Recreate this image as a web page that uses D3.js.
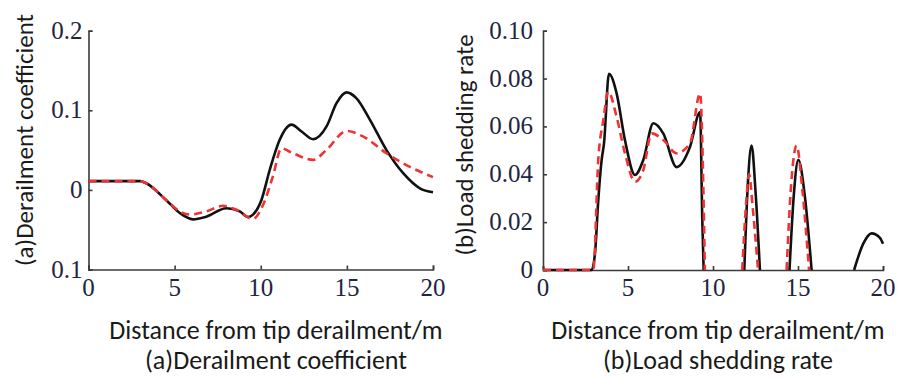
<!DOCTYPE html>
<html>
<head>
<meta charset="utf-8">
<script src="https://cdn.jsdelivr.net/npm/d3@7"></script>
<style>
  body { margin: 0; background: #fff; }
</style>
</head>
<body>
<div id="chart"></div>
<script>
// ---- data ----
const xTicks = [0, 5, 10, 15, 20];

// (a) derailment coefficient
const coefTicks = [0.2, 0.1, 0, -0.1];
const coefTickLabels = ['0.2', '0.1', '0', '0.1'];
const coefX = [0, 1, 2, 3, 3.35, 4.5, 5.3, 6.06, 6.84, 8.0, 8.78, 9.26, 9.55, 10.04, 10.52, 11.1, 11.78, 12.37, 13.04, 13.82, 14.4, 14.98, 15.56, 16.34, 17.3, 18.27, 19.24, 20];
const coefSolid = [0.011, 0.011, 0.011, 0.011, 0.0084, -0.0126, -0.029, -0.037, -0.0336, -0.023, -0.027, -0.034, -0.031, -0.0126, 0.025, 0.063, 0.082, 0.0734, 0.0637, 0.0797, 0.109, 0.1225, 0.115, 0.088, 0.050, 0.021, 0.002, -0.003];
const coefDashX = [0, 1, 2, 3, 3.35, 4.5, 5.3, 5.87, 6.84, 7.8, 8.58, 9.55, 10.13, 10.7, 11.2, 11.87, 13.04, 13.8, 14.98, 15.95, 17.3, 18.66, 20];
const coefDash = [0.011, 0.011, 0.011, 0.011, 0.0084, -0.0126, -0.027, -0.031, -0.027, -0.020, -0.025, -0.0365, -0.019, 0.0168, 0.052, 0.046, 0.0377, 0.050, 0.074, 0.067, 0.046, 0.029, 0.016];

// (b) load shedding rate (null = curve not drawn)
const loadTicks = [0.10, 0.08, 0.06, 0.04, 0.02, 0];
const loadTickLabels = ['0.10', '0.08', '0.06', '0.04', '0.02', '0'];
const loadSolidX = [0, 2.86, 3.06, 3.25, 3.45, 3.59, 3.88, 4.33, 4.82, 5.41, 5.9, 6.49, 7.08, 7.86, 8.65, 9.24, 9.37, 9.45,
  null, 11.84, 12.05, 12.27, 12.5, 12.76,
  null, 14.5, 14.75, 15.02, 15.4, 15.8,
  null, 18.3, 18.84, 19.33, 19.82, 20];
const loadSolid = [0, 0, 0.007, 0.029, 0.046, 0.053, 0.082, 0.0738, 0.0543, 0.0397, 0.046, 0.0613, 0.057, 0.043, 0.0515, 0.066, 0.021, 0,
  null, 0, 0.036, 0.052, 0.033, 0,
  null, 0, 0.031, 0.046, 0.031, 0,
  null, 0, 0.011, 0.0153, 0.0134, 0.011];
const loadDashX = [0, 2.96, 3.25, 3.55, 3.84, 4.33, 4.82, 5.41, 5.9, 6.39, 7.08, 7.86, 8.65, 9.24, 9.43, 9.52,
  null, 11.72, 11.95, 12.12, 12.35, 12.65,
  null, 14.33, 14.6, 14.92, 15.25, 15.65];
const loadDash = [0, 0, 0.046, 0.0627, 0.0745, 0.064, 0.0488, 0.0369, 0.0418, 0.0571, 0.0543, 0.0488, 0.053, 0.0738, 0.035, 0,
  null, 0, 0.028, 0.040, 0.025, 0,
  null, 0, 0.036, 0.052, 0.034, 0];

const W = 901, H = 378;

const svg = d3.select('#chart').append('svg')
  .attr('width', W).attr('height', H)
  .style('background', '#fff');

function zip(xs, ys) {
  return xs.map((x, i) => ({ x: x, y: ys[i] }));
}

// tick labels drawn as plain text from the scales, serif
function tickText(g, xs, ys, labels, anchor) {
  g.selectAll(null)
    .data(labels)
    .enter()
    .append('text')
    .attr('x', (d, i) => xs(i))
    .attr('y', (d, i) => ys(i))
    .attr('text-anchor', anchor)
    .attr('font-family', 'Liberation Serif')
    .attr('font-size', 25)
    .attr('fill', '#1e2540')
    .text(d => d);
}

function panel(opt) {
  const x = d3.scaleLinear().domain([0, 20]).range(opt.xr);
  const y = d3.scaleLinear().domain(opt.yd).range(opt.yr);
  const g = svg.append('g');

  // axes with inward ticks, labels drawn separately
  const xa = g.append('g')
    .attr('transform', `translate(0,${opt.yr[0]})`)
    .call(d3.axisBottom(x).tickValues(xTicks).tickFormat('')
      .tickSizeInner(-4).tickSizeOuter(-4));
  const ya = g.append('g')
    .attr('transform', `translate(${opt.xr[0]},0)`)
    .call(d3.axisLeft(y).tickValues(opt.yTicks).tickFormat('')
      .tickSizeInner(-4).tickSizeOuter(-4));
  [xa, ya].forEach(a => {
    a.selectAll('text').remove();
    a.selectAll('path, line').attr('stroke', '#3a3a3a').attr('stroke-width', 1.6);
  });

  tickText(g, i => x(xTicks[i]), () => opt.yr[0] + 26, xTicks.map(String), 'middle');
  tickText(g, () => opt.xr[0] - opt.yPad, i => y(opt.yTicks[i]) + 8, opt.yLabels, 'end');

  const line = d3.line()
    .defined(d => d.x !== null && d.y !== null)
    .x(d => x(d.x)).y(d => y(d.y))
    .curve(d3.curveMonotoneX);

  g.append('path')
    .datum(zip(opt.solidX, opt.solid))
    .attr('fill', 'none').attr('stroke', '#111')
    .attr('stroke-width', 2.6)
    .attr('d', line);
  g.append('path')
    .datum(zip(opt.dashX, opt.dash))
    .attr('fill', 'none').attr('stroke', '#ee3333')
    .attr('stroke-width', 2.6)
    .attr('stroke-dasharray', '8,5')
    .attr('d', line);

  // y title
  g.append('text')
    .attr('transform', `translate(${opt.yTitleX},${opt.yTitleY}) rotate(-90)`)
    .attr('text-anchor', 'middle').attr('dominant-baseline', 'central')
    .attr('font-family', 'Carlito').attr('font-size', 25).attr('fill', '#1a1a1a')
    .text(opt.yTitle);
  // bottom titles
  g.append('text')
    .attr('x', opt.capX).attr('y', 339)
    .attr('text-anchor', 'middle')
    .attr('font-family', 'Carlito').attr('font-size', 26).attr('fill', '#1a1a1a')
    .text('Distance from tip derailment/m');
  g.append('text')
    .attr('x', opt.capX).attr('y', 369)
    .attr('text-anchor', 'middle')
    .attr('font-family', 'Carlito').attr('font-size', 26).attr('fill', '#1a1a1a')
    .text(opt.caption);
}

panel({
  xr: [88.5, 433], yr: [269.5, 30.7], yd: [-0.1, 0.2],
  yTicks: coefTicks, yLabels: coefTickLabels, yPad: 6,
  solidX: coefX, solid: coefSolid, dashX: coefDashX, dash: coefDash,
  yTitle: '(a)Derailment coefficient', yTitleX: 24, yTitleY: 140,
  capX: 276, caption: '(a)Derailment coefficient'
});

panel({
  xr: [543, 883], yr: [270, 30.7], yd: [0, 0.10],
  yTicks: loadTicks, yLabels: loadTickLabels, yPad: 10,
  solidX: loadSolidX, solid: loadSolid, dashX: loadDashX, dash: loadDash,
  yTitle: '(b)Load shedding rate', yTitleX: 464, yTitleY: 145,
  capX: 718, caption: '(b)Load shedding rate'
});
</script>
</body>
</html>
